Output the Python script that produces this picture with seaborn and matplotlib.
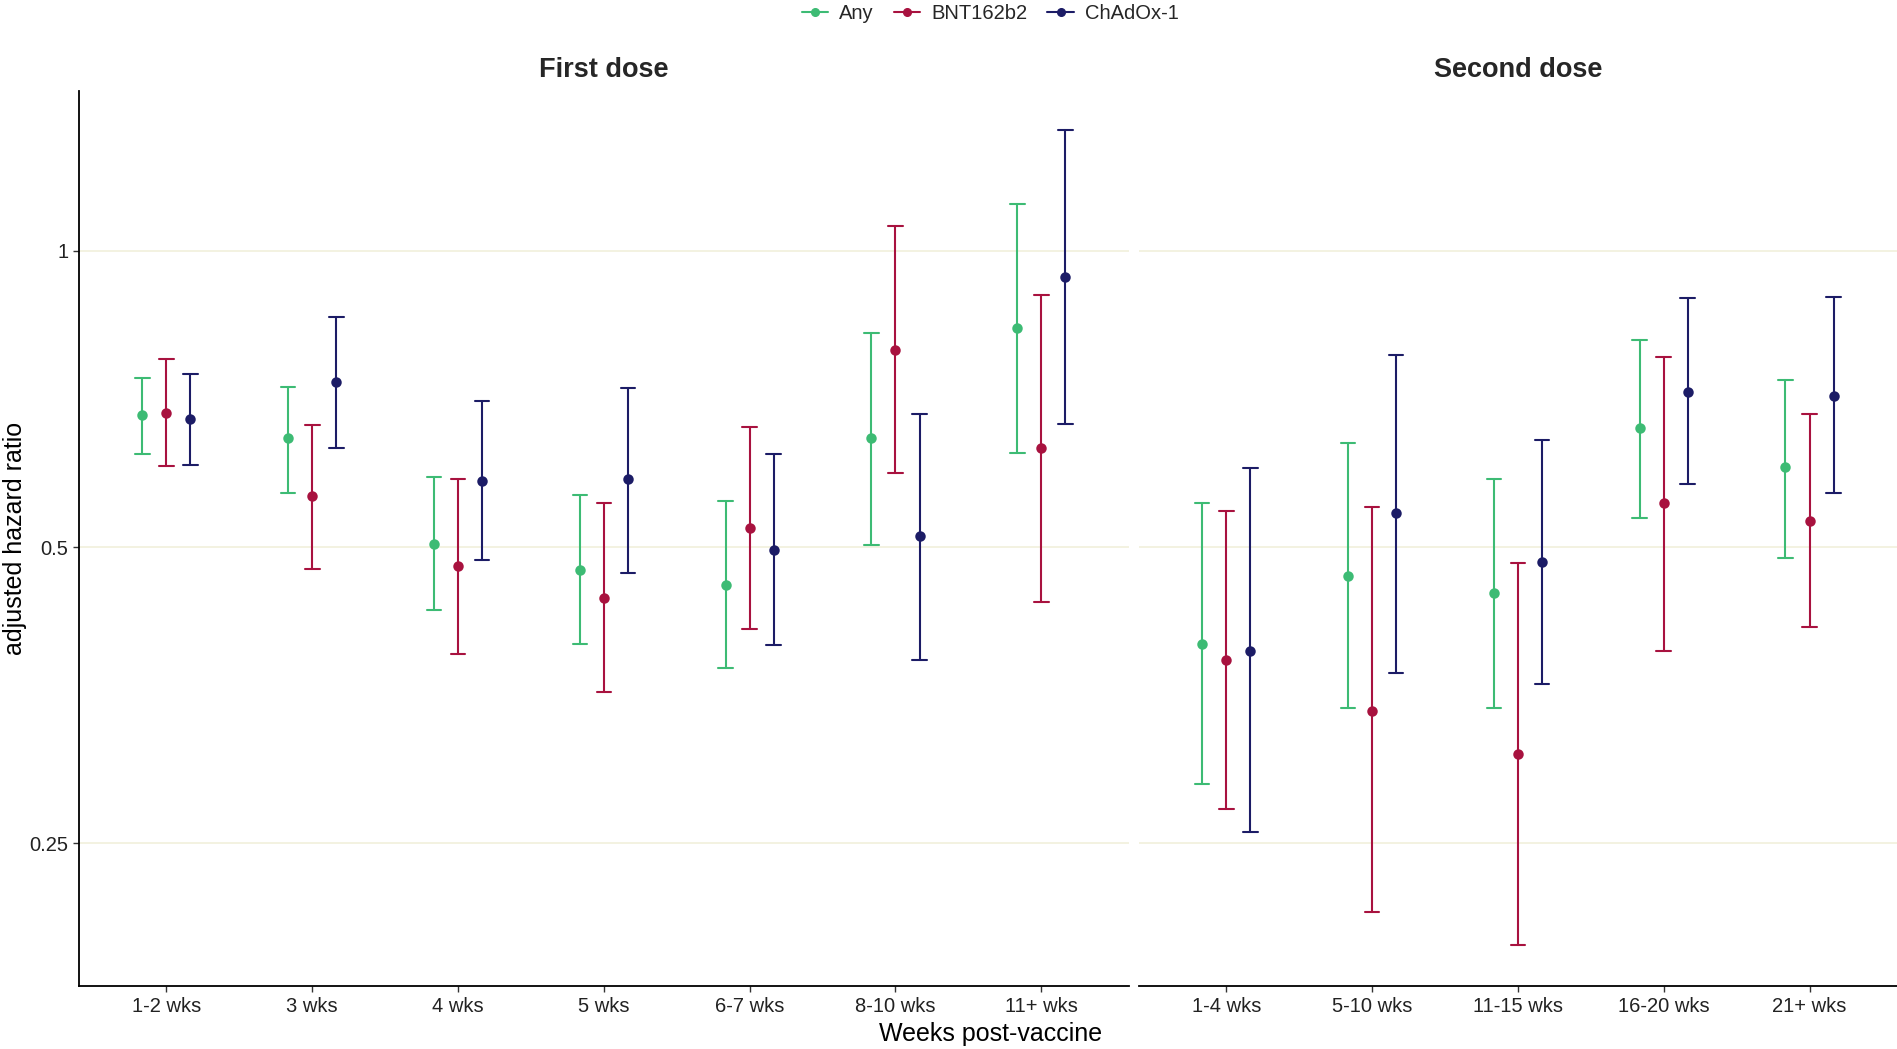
import numpy as np
import pandas as pd
import matplotlib
matplotlib.use("Agg")
import matplotlib.pyplot as plt
import seaborn as sns
from matplotlib.ticker import FixedLocator, FixedFormatter, NullLocator
from matplotlib.lines import Line2D

sns.set_theme(style="white")
plt.rcParams["font.family"] = ["Liberation Sans", "DejaVu Sans"]

vaccines = ["Any", "BNT162b2", "ChAdOx-1"]
palette = {"Any": "#3dbb74", "BNT162b2": "#a8123f", "ChAdOx-1": "#1c1c66"}

first_periods = ["1-2 wks", "3 wks", "4 wks", "5 wks", "6-7 wks", "8-10 wks", "11+ wks"]
second_periods = ["1-4 wks", "5-10 wks", "11-15 wks", "16-20 wks", "21+ wks"]

# Adjusted hazard ratios with 95% confidence limits, first dose
first_any_hr = [0.681, 0.645, 0.504, 0.474, 0.458, 0.645, 0.834]
first_any_lo = [0.622, 0.568, 0.432, 0.399, 0.377, 0.503, 0.623]
first_any_hi = [0.743, 0.728, 0.589, 0.565, 0.557, 0.825, 1.117]

first_bnt_hr = [0.684, 0.563, 0.478, 0.444, 0.523, 0.793, 0.630]
first_bnt_lo = [0.605, 0.475, 0.389, 0.356, 0.413, 0.594, 0.440]
first_bnt_hi = [0.777, 0.665, 0.587, 0.555, 0.663, 1.061, 0.903]

first_chad_hr = [0.675, 0.735, 0.584, 0.586, 0.497, 0.513, 0.940]
first_chad_lo = [0.606, 0.630, 0.485, 0.471, 0.398, 0.384, 0.667]
first_chad_hi = [0.749, 0.856, 0.704, 0.726, 0.622, 0.683, 1.327]

# Second dose
second_any_hr = [0.399, 0.467, 0.449, 0.660, 0.603]
second_any_lo = [0.287, 0.343, 0.343, 0.535, 0.487]
second_any_hi = [0.554, 0.638, 0.587, 0.811, 0.739]

second_bnt_hr = [0.384, 0.341, 0.308, 0.554, 0.532]
second_bnt_lo = [0.271, 0.213, 0.197, 0.392, 0.415]
second_bnt_hi = [0.544, 0.549, 0.482, 0.780, 0.683]

second_chad_hr = [0.392, 0.541, 0.483, 0.718, 0.712]
second_chad_lo = [0.257, 0.372, 0.363, 0.579, 0.568]
second_chad_hi = [0.601, 0.784, 0.643, 0.896, 0.898]


def long_frame(periods, series):
    rows = []
    for vac, (hr, lo, hi) in zip(vaccines, series):
        for p, a, b, c in zip(periods, lo, hr, hi):
            for v in (a, b, c):
                rows.append({"period": p, "vaccine": vac, "hr": v})
    return pd.DataFrame(rows)


df_first = long_frame(first_periods, [
    (first_any_hr, first_any_lo, first_any_hi),
    (first_bnt_hr, first_bnt_lo, first_bnt_hi),
    (first_chad_hr, first_chad_lo, first_chad_hi),
])
df_second = long_frame(second_periods, [
    (second_any_hr, second_any_lo, second_any_hi),
    (second_bnt_hr, second_bnt_lo, second_bnt_hi),
    (second_chad_hr, second_chad_lo, second_chad_hi),
])

fig = plt.figure(figsize=(18.97, 10.49), dpi=100)
gs = fig.add_gridspec(1, 2, width_ratios=[7.2, 5.2], left=0.0416, right=1.0,
                      bottom=0.060, top=0.913, wspace=0.0110)
ax1 = fig.add_subplot(gs[0])
ax2 = fig.add_subplot(gs[1], sharey=ax1)

for ax, data, periods, title in [(ax1, df_first, first_periods, "First dose"),
                                 (ax2, df_second, second_periods, "Second dose")]:
    ax.set_yscale("log")
    for y in (0.25, 0.5, 1.0):
        ax.axhline(y, color="#f1f0dc", lw=1.2, zorder=0)
    sns.pointplot(data=data, x="period", y="hr", hue="vaccine", order=periods,
                  hue_order=vaccines, palette=palette, estimator="median",
                  errorbar=("pi", 100), dodge=0.33, linestyle="none",
                  markers="o", markersize=5.5, capsize=0.1,
                  err_kws={"linewidth": 1.5}, ax=ax, legend=False)
    ax.set_xlim(-0.6, len(periods) - 0.4)
    ax.set_title(title, fontsize=19.5, fontweight="bold", pad=10)
    ax.set_xlabel("")
    ax.set_ylabel("")
    for s in ("top", "right"):
        ax.spines[s].set_visible(False)
    ax.spines["bottom"].set_color("black")
    ax.spines["bottom"].set_linewidth(1.3)
    ax.tick_params(axis="x", length=4, width=1, color="#333333", labelsize=14.5,
                   labelcolor="#222222", pad=4, bottom=True)

ax1.set_ylim(0.179, 1.453)
ax1.yaxis.set_major_locator(FixedLocator([0.25, 0.5, 1.0]))
ax1.yaxis.set_major_formatter(FixedFormatter(["0.25", "0.5", "1"]))
ax1.yaxis.set_minor_locator(NullLocator())
ax1.spines["left"].set_color("black")
ax1.spines["left"].set_linewidth(1.3)
ax1.tick_params(axis="y", length=4, width=1, color="#333333", labelsize=14.5,
                labelcolor="#222222", left=True)
ax2.spines["left"].set_visible(False)
ax2.tick_params(axis="y", left=False, labelleft=False)

fig.text(0.0078, 0.4865, "adjusted hazard ratio", rotation=90, va="center",
         ha="center", fontsize=18, color="black")
fig.text(0.522, 0.014, "Weeks post-vaccine", ha="center", va="center",
         fontsize=18, color="black")

handles = [Line2D([0], [0], color=palette[v], marker="o", markersize=5.5,
                  lw=1.5, label=v) for v in vaccines]
fig.legend(handles=handles, loc="center", bbox_to_anchor=(0.522, 0.987), ncol=3,
           frameon=False, fontsize=14.5, handlelength=1.3, columnspacing=1.0,
           handletextpad=0.55)

fig.savefig("out.png", dpi=100, facecolor="white")
